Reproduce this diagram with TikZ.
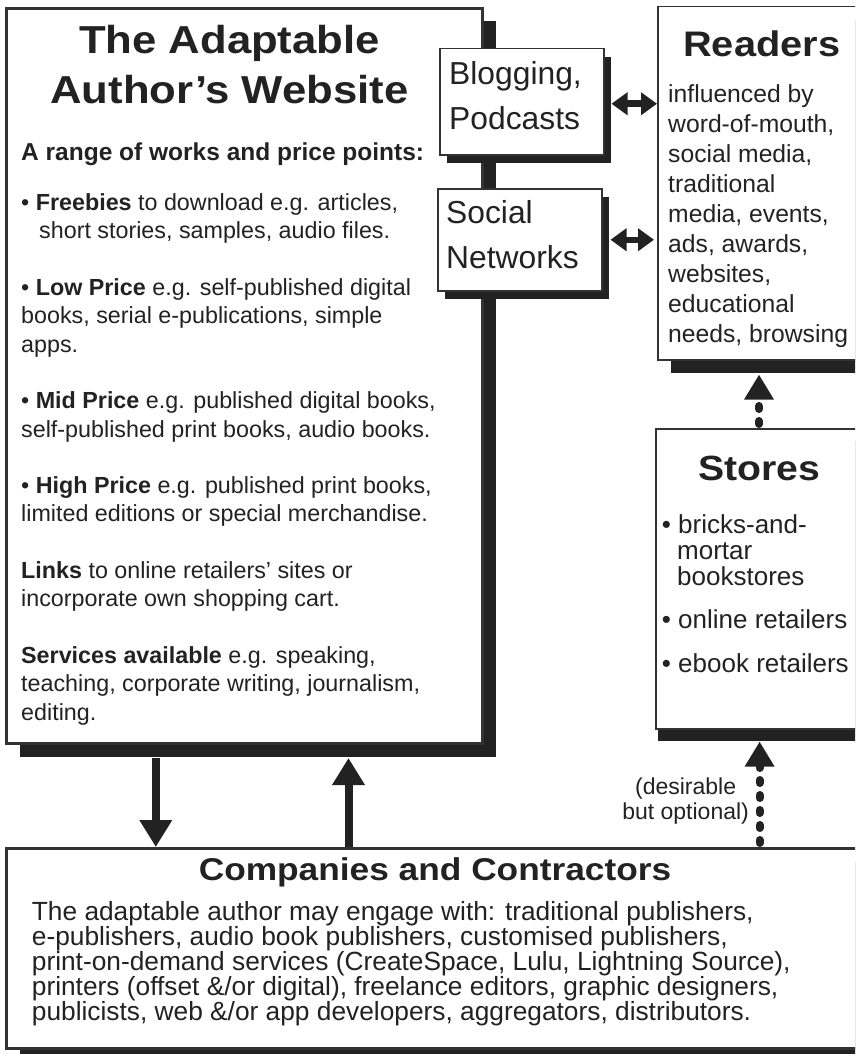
\documentclass[tikz,border=0pt]{standalone}
\usepackage{fontspec}
\setmainfont{Liberation Sans}
\newfontfamily\headfont[FakeStretch=1.12]{Liberation Sans}
\usepackage{xcolor}
\usepackage{tikz}
\usetikzlibrary{positioning,shadows,calc}
\usetikzlibrary{arrows.meta}
\definecolor{ink}{HTML}{222222}
\definecolor{rim}{HTML}{333333}
\newcommand{\tightlines}{\lineskiplimit=-20pt\relax}

\begin{document}
\begin{tikzpicture}[x=1pt,y=-1pt,
  panel/.style={draw=rim, line width=1.5pt, fill=white, inner sep=0pt, anchor=north west},
  heavy/.style={line width=3pt},
  bigshadow/.style={drop shadow={shadow xshift=13pt, shadow yshift=-13pt, opacity=1, fill=ink}},
  smallshadow/.style={drop shadow={shadow xshift=7pt, shadow yshift=-8pt, opacity=1, fill=ink}},
  storeshadow/.style={drop shadow={shadow xshift=2pt, shadow yshift=-12pt, opacity=1, fill=ink}},
  txt/.style={inner sep=0pt, text=ink, align=left},
  solidarrow/.style={-{Triangle[width=31pt,length=27pt]}, draw=ink, line width=8pt},
  dotarrow/.style={-{Triangle[width=28pt,length=25pt]}, draw=ink, line width=8pt, line cap=round, dash pattern=on 3pt off 12pt},
  dblarrow/.style={{Triangle[width=22pt,length=16pt]}-{Triangle[width=22pt,length=16pt]}, draw=ink, line width=6.5pt}]
\useasboundingbox[fill=white] (0,0) rectangle (855,1054);
\clip (0,0) rectangle (855,1054);

% boxes
\node[panel, heavy, bigshadow, minimum width=476pt, minimum height=735pt] (web) at (5,7) {};
\node[panel, smallshadow, minimum width=164pt, minimum height=106pt] (blog) at (439,48) {};
\node[panel, smallshadow, minimum width=164pt, minimum height=102pt] (social) at (437,188) {};
\node[panel, bigshadow, minimum width=230pt, minimum height=353pt] (readers) at (657,6) {};
\node[panel, storeshadow, minimum width=230pt, minimum height=300pt] (stores) at (655,428) {};
\node[panel, heavy, bigshadow, minimum width=880pt, minimum height=200pt] (comp) at (5,847) {};

% website text (base = last line)
\node[txt, align=center, anchor=base, font=\headfont\bfseries\fontsize{39}{50}\selectfont] (webtitle) at ([xshift=-15pt,yshift=-96pt]web.north) {The Adaptable\\Author’s Website};
\node[txt, anchor=base west, font=\bfseries\fontsize{24.5}{28.3}\selectfont] (range) at ([xshift=16pt,yshift=-153pt]web.north west) {A range of works and price points:};
\node[txt, anchor=base west, font=\fontsize{23.3}{28.3}\selectfont] (works) at ([xshift=16pt,yshift=-713pt]web.north west) {%
• \textbf{Freebies} to download e.g. articles,\\
\hspace*{18pt}short stories, samples, audio files.\\[28.3pt]
• \textbf{Low Price} e.g. self-published digital\\
books, serial e-publications, simple\\
apps.\\[28.3pt]
• \textbf{Mid Price} e.g. published digital books,\\
self-published print books, audio books.\\[28.3pt]
• \textbf{High Price} e.g. published print books,\\
limited editions or special merchandise.\\[28.3pt]
\textbf{Links} to online retailers’ sites or\\
incorporate own shopping cart.\\[28.3pt]
\textbf{Services available} e.g. speaking,\\
teaching, corporate writing, journalism,\\
editing.};

% blogging and social networks
\node[txt, anchor=base west, font=\fontsize{31.8}{45}\selectfont] (blogtxt) at ([xshift=10pt,yshift=-82pt]blog.north west) {Blogging,\\Podcasts};
\node[txt, anchor=base west, font=\fontsize{31.8}{45}\selectfont] (socialtxt) at ([xshift=9pt,yshift=-80pt]social.north west) {Social\\Networks};

% readers
\node[txt, anchor=base, font=\headfont\bfseries\fontsize{35.5}{40}\selectfont] (readtitle) at ([xshift=104.7pt,yshift=-51pt]readers.north west) {Readers};
\node[txt, anchor=base west, font=\fontsize{24.7}{30}\selectfont] (readtxt) at ([xshift=11pt,yshift=-336pt]readers.north west) {influenced by\\word-of-mouth,\\social media,\\traditional\\media, events,\\ads, awards,\\websites,\\educational\\needs, browsing};

% stores
\node[txt, anchor=base, font=\headfont\bfseries\fontsize{35}{40}\selectfont] (storetitle) at ([xshift=104pt,yshift=-52pt]stores.north west) {Stores};
\node[txt, anchor=base west, font=\fontsize{26}{26}\selectfont\tightlines] (storetxt) at ([xshift=6.7pt,yshift=-244.7pt]stores.north west) {• bricks-and-\\
\hspace*{15.3pt}mortar\\
\hspace*{15.3pt}bookstores\\[17pt]
• online retailers\\[18.7pt]
• ebook retailers};

% companies
\node[txt, anchor=base, font=\headfont\bfseries\fontsize{31.5}{36}\selectfont] (comptitle) at ([xshift=430pt,yshift=-33.7pt]comp.north west) {Companies and Contractors};
\node[txt, anchor=base west, font=\fontsize{26.3}{25}\selectfont\tightlines] (comptxt) at ([xshift=26.7pt,yshift=-173pt]comp.north west) {The adaptable author may engage with: traditional publishers,\\
e-publishers, audio book publishers, customised publishers,\\
print-on-demand services (CreateSpace, Lulu, Lightning Source),\\
printers (offset \&/or digital), freelance editors, graphic designers,\\
publicists, web \&/or app developers, aggregators, distributors.};

\node[txt, align=center, anchor=base, font=\fontsize{23}{25}\selectfont] (optional) at ([xshift=30.6pt,yshift=-90pt]stores.south west) {(desirable\\but optional)};

% edges
\draw[solidarrow] ($(web.south west)+(150.8,13)$) -- ($(web.south west |- comp.north)+(150.8,0)$);
\draw[solidarrow] ($(web.south west |- comp.north)+(343.5,0)$) -- ($(web.south west)+(343.5,13)$);
\draw[dotarrow] ($(stores.north west)+(104,-4)$) -- ($(stores.north west |- readers.south)+(104,14)$);
\draw[dotarrow] ($(stores.north west |- comp.north)+(104.6,-4)$) -- ($(stores.south west)+(104.6,12)$);
\draw[dblarrow] ($(blog.east)+(7,2)$) -- ($(blog.east -| readers.west)+(0,2)$);
\draw[dblarrow] ($(social.east)+(8,0)$) -- ($(social.east -| readers.west)+(-3,0)$);

\end{tikzpicture}
\end{document}
